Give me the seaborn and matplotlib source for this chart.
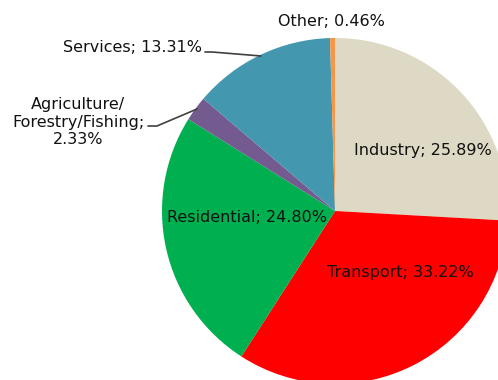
import matplotlib
matplotlib.use("Agg")
import matplotlib.pyplot as plt
import seaborn as sns

# Energy use share by sector (percent), clockwise from 12 o'clock
names = ["Industry", "Transport", "Residential",
         "Agriculture/Forestry/Fishing", "Services", "Other"]
shares = [25.89, 33.22, 24.80, 2.33, 13.31, 0.46]
colors = ["#DDD9C4", "#FF0000", "#00B050", "#735A8F", "#4397AF", "#F79646"]

sns.set_theme(style="white")
plt.rcParams["font.family"] = ["DejaVu Sans"]

W, H = 498, 380
fig = plt.figure(figsize=(W / 100, H / 100), dpi=100)
ax = fig.add_axes([0, 0, 1, 1])

cx, cy, r = 335, H - 211, 173
ax.pie(shares, colors=colors, startangle=90, counterclock=False,
       center=(cx, cy), radius=r, wedgeprops=dict(linewidth=0),
       normalize=True)
ax.set_xlim(0, W)
ax.set_ylim(0, H)
ax.set_aspect("equal")
ax.axis("off")

fs = 11.5
tc = "#111111"


def label(i):
    return f"{names[i]}; {shares[i]:.2f}%"


# labels inside the slices
ax.text(423, H - 151, label(0), fontsize=fs, color=tc, ha="center", va="center")
ax.text(400, H - 272, label(1), fontsize=fs, color=tc, ha="center", va="center")
ax.text(247, H - 217, label(2), fontsize=fs, color=tc, ha="center", va="center")

# outside labels with leader lines
ax.text(331, H - 21, label(5), fontsize=fs, color=tc, ha="center", va="center")
ax.text(202, H - 47, label(4), fontsize=fs, color=tc, ha="right", va="center")
ax.plot([205, 212, 261], [H - 52, H - 52, H - 56], color="#404040", lw=1.2)

ax.text(78, H - 122, f"Agriculture/\nForestry/Fishing;\n{shares[3]:.2f}%",
        fontsize=fs, color=tc, ha="center", va="center", linespacing=1.22)
ax.plot([148, 157, 197], [H - 126, H - 126, H - 109], color="#404040", lw=1.2)

fig.savefig("out.png", dpi=100)
